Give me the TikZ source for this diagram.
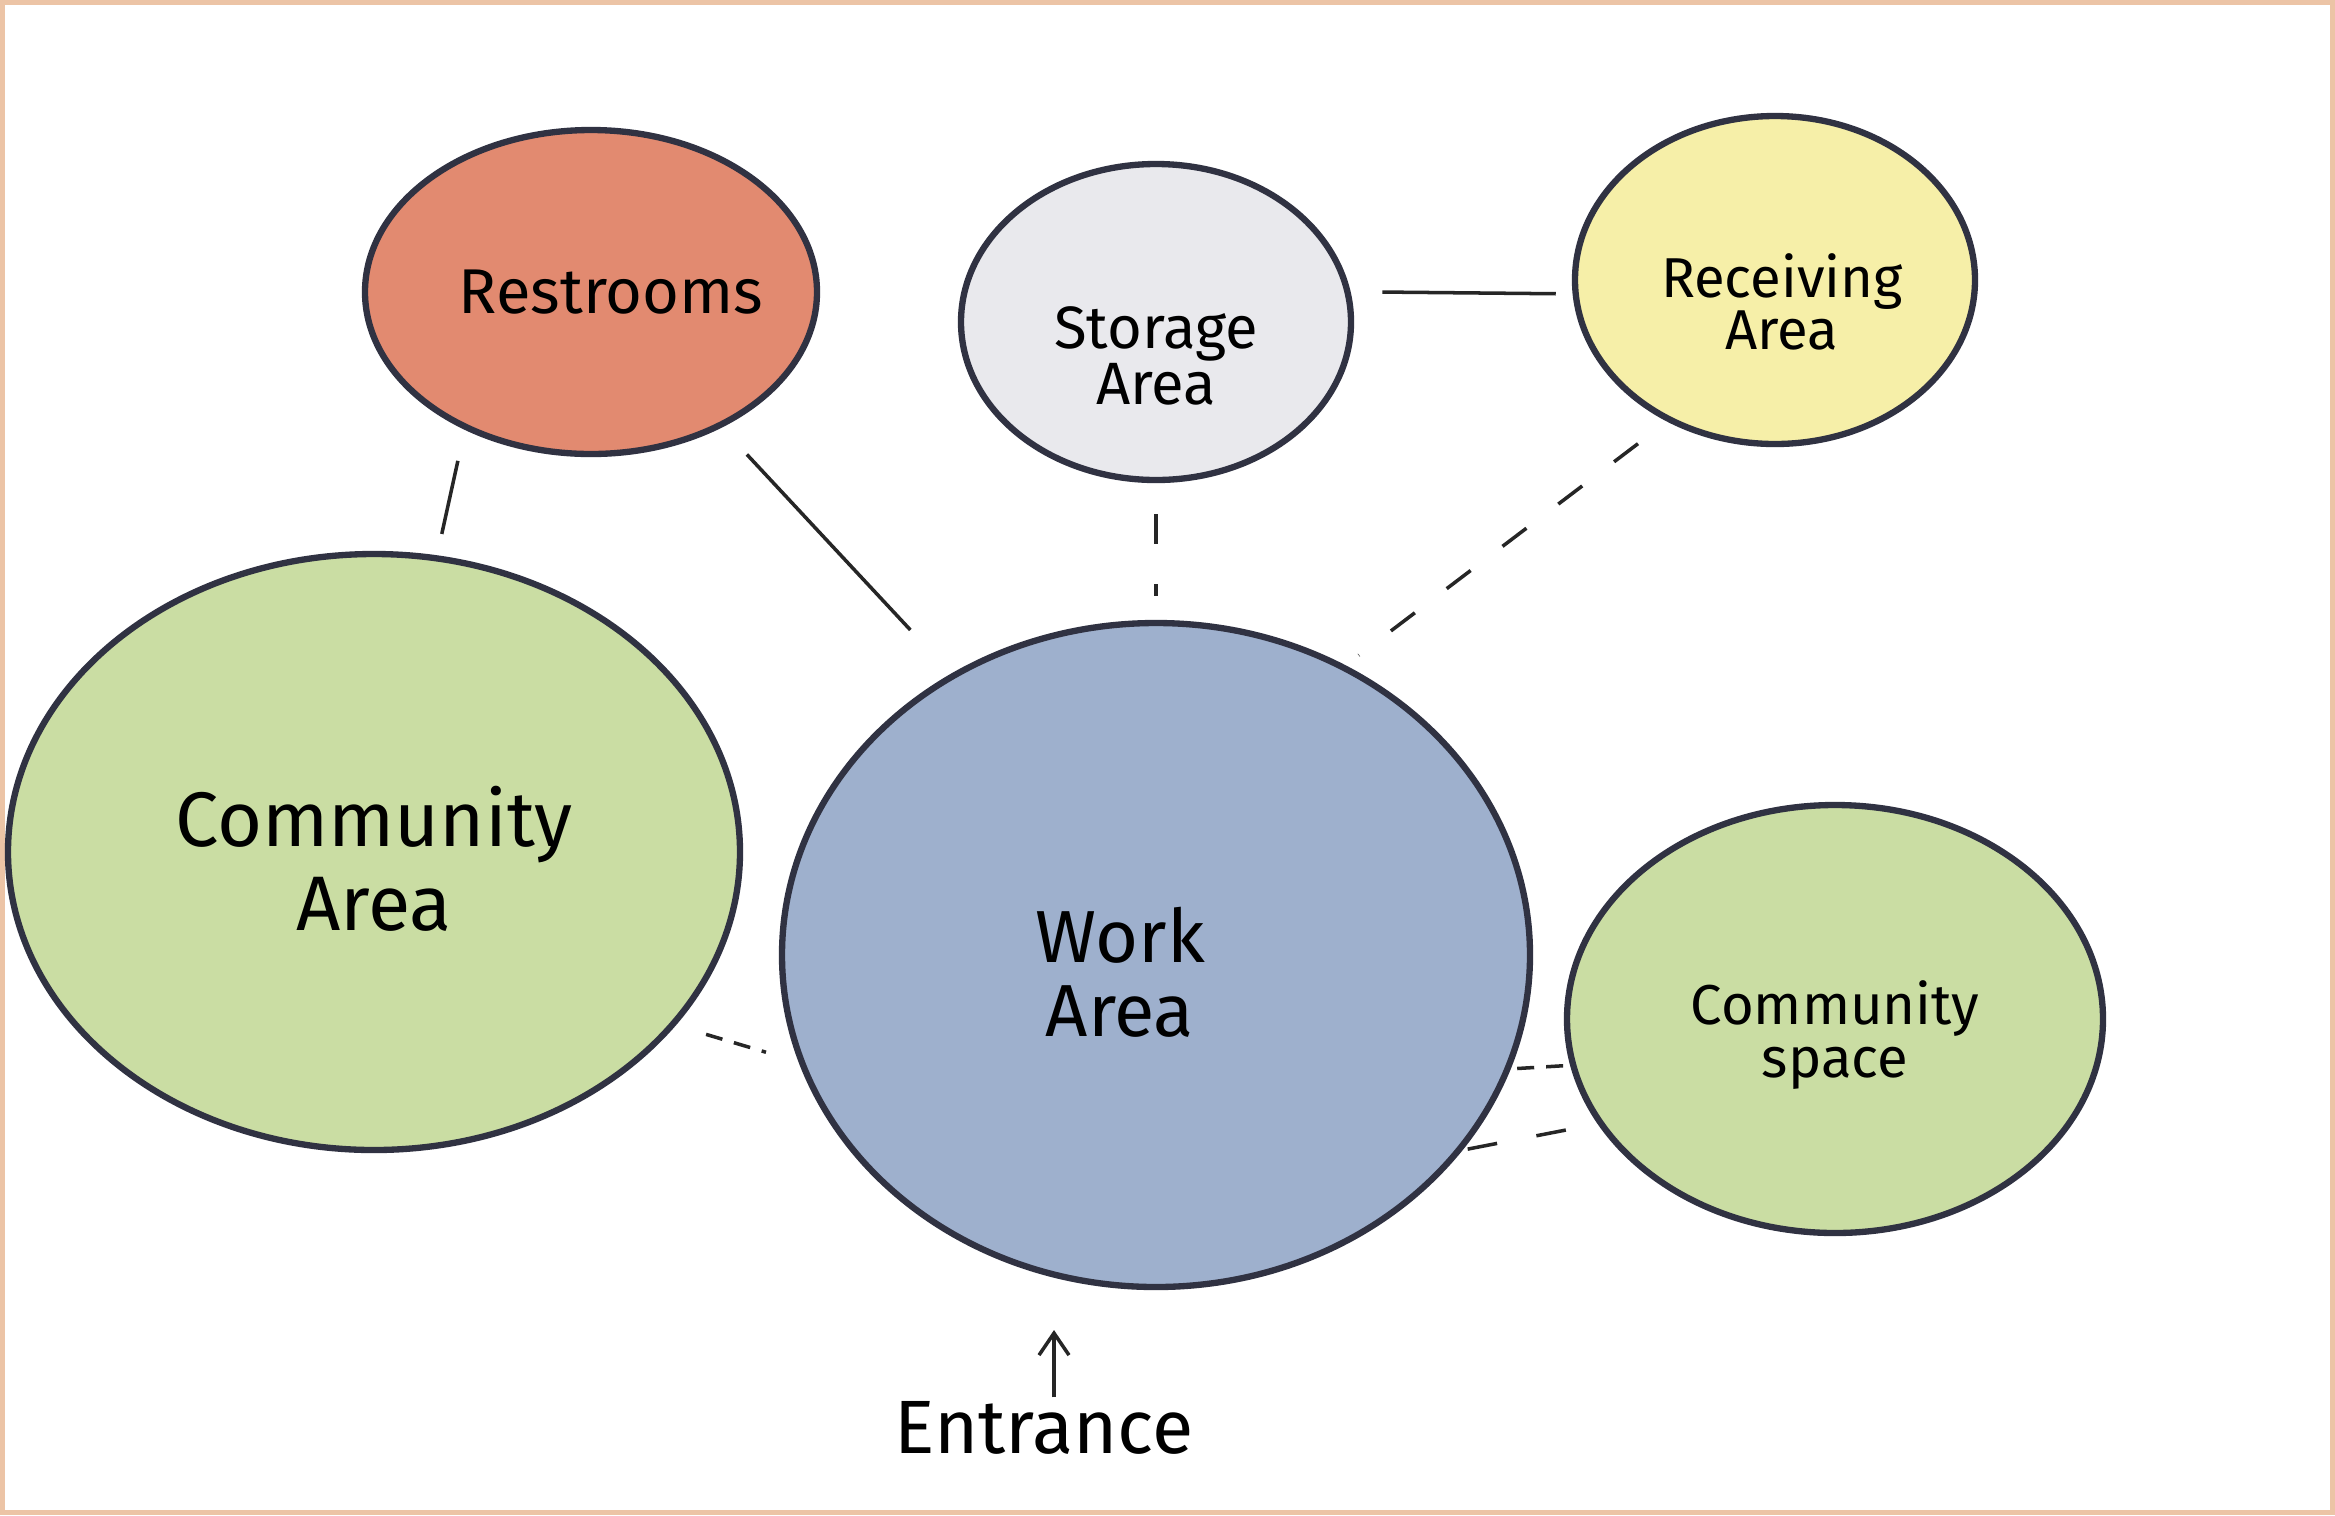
\documentclass[tikz,border=0pt]{standalone}
\usepackage{fontspec}
\setmainfont{Fira Sans}
\usetikzlibrary{arrows.meta,shapes.geometric}
\definecolor{bubbleLine}{RGB}{48, 50, 66}
\definecolor{restRed}{RGB}{226, 138, 112}
\definecolor{storeGray}{RGB}{233, 233, 237}
\definecolor{recvYellow}{RGB}{246, 239, 168}
\definecolor{commGreen}{RGB}{202, 221, 163}
\definecolor{workBlue}{RGB}{158, 176, 205}
\definecolor{frameOrange}{RGB}{236, 196, 166}

\begin{document}
\begin{tikzpicture}[
  bubble/.style={
    draw=bubbleLine,
    line width=1.8pt,
    ellipse,
    inner sep=0pt,
    outer sep=0pt
  },
  areaname/.style={align=center,inner sep=1pt},
  link/.style={line width=1pt,black!85},
  dashlink/.style={link,dash pattern=on 3mm off 4mm},
  shortdash/.style={link,dash pattern=on 1.7mm off 1.2mm}
]
  \useasboundingbox (0,0) rectangle (23.35,-15.15);
  \fill[white] (0,0) rectangle (23.35,-15.15);
  \draw[frameOrange,line width=0.05cm] (0.025,-0.025) rectangle (23.325,-15.125);

  % bubbles
  \node[bubble,fill=restRed,minimum width=4.52cm,minimum height=3.24cm]
    (rest) at (5.91,-2.92) {};
  \node[bubble,fill=storeGray,minimum width=3.9cm,minimum height=3.16cm]
    (store) at (11.56,-3.22) {};
  \node[bubble,fill=recvYellow,minimum width=4.0cm,minimum height=3.28cm]
    (recv) at (17.75,-2.80) {};
  \node[bubble,fill=commGreen,minimum width=7.32cm,minimum height=5.96cm]
    (cArea) at (3.74,-8.52) {};
  \node[bubble,fill=workBlue,minimum width=7.48cm,minimum height=6.64cm]
    (work) at (11.56,-9.55) {};
  \node[bubble,fill=commGreen,minimum width=5.36cm,minimum height=4.28cm]
    (cSpace) at (18.35,-10.19) {};

  % names
  \node[areaname,font=\fontsize{18}{18}\selectfont] (restTxt)
    at ([xshift=2mm]rest.center) {Restrooms};
  \node[areaname,font=\fontsize{17}{16}\selectfont] (storeTxt)
    at ([yshift=-3.4mm]store.center) {Storage\\Area};
  \node[areaname,font=\fontsize{16}{15}\selectfont] (recvTxt)
    at ([xshift=0.7mm,yshift=-2.2mm]recv.center) {Receiving\\Area};
  \node[areaname,font=\fontsize{22}{24}\selectfont] (cAreaTxt)
    at ([yshift=-0.7mm]cArea.center) {Community\\Area};
  \node[areaname,font=\fontsize{21}{21}\selectfont] (workTxt)
    at ([xshift=-3.6mm,yshift=-1.7mm]work.center) {Work\\Area};
  \node[areaname,font=\fontsize{16}{15}\selectfont] (cSpaceTxt)
    at ([yshift=-1.6mm]cSpace.center) {Community\\space};
  \node[areaname,font=\fontsize{21.5}{22}\selectfont] (entr) at (10.44,-14.28) {Entrance};
  \coordinate (door) at (10.54,-13.30);

  % links
  \draw[link,shorten <=3.5mm,shorten >=2mm] (store.9) -- (recv.184);
  \draw[link,shorten <=3.5mm,shorten >=2.5mm] (rest.227) -- (cArea.78);
  \draw[link,shorten <=4mm,shorten >=6.3mm] (rest.314) -- (work.126);
  \draw[dashlink,shorten <=3.4mm,shorten >=2.7mm] (store.270) -- (work.90);
  \draw[dashlink,shorten <=4mm,shorten >=2mm] (recv.233) -- (work.57);
  \draw[shortdash,shorten <=3.5mm,shorten >=3.8mm] (cArea.330) -- (work.197);
  \draw[shortdash,shorten <=1mm,shorten >=0.7mm] (work.342) -- (cSpace.190);
  \draw[dashlink,shorten <=1mm] (work.327) -- (cSpace.204);
  \draw[link,-{Straight Barb[length=2.2mm,width=3mm]}] (entr.north -| door) -- (door);
\end{tikzpicture}
\end{document}
